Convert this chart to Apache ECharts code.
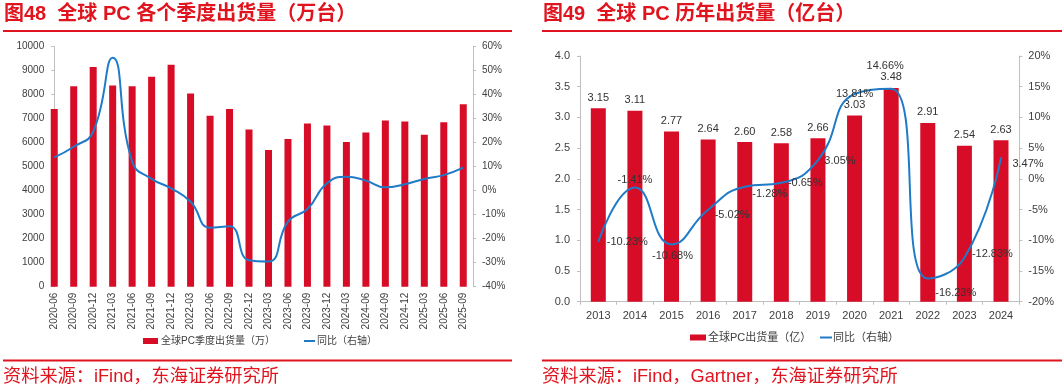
<!DOCTYPE html>
<html><head><meta charset="utf-8">
<script src="https://cdn.jsdelivr.net/npm/echarts@6/dist/echarts.min.js"></script>
<style>html,body{margin:0;padding:0;background:#fff}#c{width:1062px;height:390px}</style>
</head><body><div id="c"></div>
<script>
// ---- data: left chart (quarterly) ----
const quarters = ['2020-06','2020-09','2020-12','2021-03','2021-06','2021-09','2021-12','2022-03','2022-06','2022-09','2022-12','2023-03','2023-06','2023-09','2023-12','2024-03','2024-06','2024-09','2024-12','2025-03','2025-06','2025-09'];
const quarterlyShipments = [7400,8350,9150,8380,8350,8750,9250,8050,7120,7400,6550,5700,6150,6800,6720,6030,6430,6930,6880,6330,6850,7600];
const quarterlyYoY = [13.9,18.3,24.6,55.4,12.1,4.9,1.0,-4.6,-15.4,-14.8,-29.0,-29.5,-12.9,-7.6,3.1,5.8,4.2,1.4,2.7,4.9,6.5,9.6];
// ---- data: right chart (annual) ----
const years = ['2013','2014','2015','2016','2017','2018','2019','2020','2021','2022','2023','2024'];
const annualShipments = [3.15,3.11,2.77,2.64,2.60,2.58,2.66,3.03,3.48,2.91,2.54,2.63];
const annualYoY = [-10.23,-1.41,-10.68,-5.02,-1.28,-0.65,3.05,13.81,14.66,-16.23,-12.83,3.47];
// label placement for annual YoY labels (style only)
const annualYoYLabelOffset = [[29,0],[0,-8],[1,12],[24,5],[25,7],[24,0],[22,1],[0,0],[-6,-23],[28,14],[28,-4],[27,6]];

const FONT = "'Liberation Sans','Noto Sans CJK SC',sans-serif";
const RED = '#E0141E';
const BAR = '#D70C26';
const BLUE = '#1F7BC8';
const AX = '#BFBFBF';
const TXT = '#404040';

const chart = echarts.init(document.getElementById('c'), null, {renderer:'canvas'});
const axisCommon = {
  axisLine:{show:true,lineStyle:{color:AX,width:1}},
  axisTick:{show:true,length:3,lineStyle:{color:AX}},
  splitLine:{show:false}
};
chart.setOption({
  animation:false,
  textStyle:{fontFamily:FONT},
  graphic:[
    {type:'text',x:4,y:14,style:{text:'图48  全球 PC 各个季度出货量（万台）',font:"bold 20px "+FONT,fill:RED,verticalAlign:'middle'}},
    {type:'text',x:543,y:14,style:{text:'图49  全球 PC 历年出货量（亿台）',font:"bold 20px "+FONT,fill:RED,verticalAlign:'middle'}},
    {type:'rect',shape:{x:3,y:30,width:509,height:2},style:{fill:RED}},
    {type:'rect',shape:{x:542,y:30,width:520,height:2},style:{fill:RED}},
    {type:'rect',shape:{x:3,y:359.5,width:509,height:2},style:{fill:RED}},
    {type:'rect',shape:{x:542,y:359.5,width:520,height:2},style:{fill:RED}},
    {type:'text',x:3,y:377,style:{text:'资料来源：iFind，东海证券研究所',font:"18.2px "+FONT,fill:RED,verticalAlign:'middle'}},
    {type:'text',x:542,y:377,style:{text:'资料来源：iFind，Gartner，东海证券研究所',font:"18.2px "+FONT,fill:RED,verticalAlign:'middle'}}
  ],
  grid:[
    {left:44.5,top:46.7,width:428.5,height:240,containLabel:false},
    {left:580,top:56,width:439.3,height:245.7,containLabel:false}
  ],
  legend:[
    {data:['全球PC季度出货量（万）'],left:143,top:336,itemWidth:15,itemHeight:6,itemGap:0,icon:'rect',textStyle:{fontSize:10,color:TXT,padding:[0,0,0,-2]},padding:0},
    {data:['同比（右轴）'],left:304,top:336,itemWidth:11,itemHeight:2,icon:'rect',textStyle:{fontSize:10,color:TXT,padding:[0,0,0,-3]},padding:0},
    {data:['全球PC出货量（亿）'],left:690,top:332,itemWidth:16,itemHeight:6,icon:'rect',textStyle:{fontSize:11,color:TXT,padding:[0,0,0,-3]},padding:0},
    {data:['同比（右轴） '],left:820,top:332,itemWidth:12,itemHeight:2,icon:'rect',textStyle:{fontSize:11,color:TXT,padding:[0,0,0,-4]},padding:0}
  ],
  xAxis:[
    {type:'category',gridIndex:0,data:quarters,boundaryGap:true,
     axisLine:{show:false},axisTick:{show:false},
     axisLabel:{rotate:90,fontSize:10,color:TXT,margin:6,interval:0}},
    {type:'category',gridIndex:1,data:years,boundaryGap:true,
     axisLine:{show:true,lineStyle:{color:AX}},axisTick:{show:true,length:3,lineStyle:{color:AX}},
     axisLabel:{fontSize:11,color:TXT,margin:9,interval:0}}
  ],
  yAxis:[
    Object.assign({type:'value',gridIndex:0,position:'left',offset:-9.7,min:0,max:10000,interval:1000,
      axisLabel:{fontSize:10,color:TXT,margin:10,formatter:v=>String(v)}},axisCommon),
    Object.assign({type:'value',gridIndex:0,position:'right',min:-40,max:60,interval:10,
      axisLabel:{fontSize:10,color:TXT,margin:9,formatter:'{value}%'}},axisCommon),
    Object.assign({type:'value',gridIndex:1,position:'left',min:0,max:4,interval:0.5,
      axisLabel:{fontSize:11,color:TXT,margin:10,formatter:v=>v.toFixed(1)}},axisCommon),
    Object.assign({type:'value',gridIndex:1,position:'right',min:-20,max:20,interval:5,
      axisLabel:{fontSize:11,color:TXT,margin:9,formatter:'{value}%'}},axisCommon)
  ],
  series:[
    {name:'全球PC季度出货量（万）',type:'bar',xAxisIndex:0,yAxisIndex:0,data:quarterlyShipments,
     barWidth:7,itemStyle:{color:BAR}},
    {name:'同比（右轴）',type:'line',xAxisIndex:0,yAxisIndex:1,data:quarterlyYoY,smooth:0.5,
     symbol:'none',itemStyle:{color:BLUE},lineStyle:{color:BLUE,width:2}},
    {name:'全球PC出货量（亿）',type:'bar',xAxisIndex:1,yAxisIndex:2,data:annualShipments,
     barWidth:15,itemStyle:{color:BAR},
     label:{show:true,position:'top',distance:5,fontSize:11,color:'#333',formatter:p=>p.value.toFixed(2)}},
    {name:'同比（右轴） ',type:'line',xAxisIndex:1,yAxisIndex:3,smooth:0.5,
     data:annualYoY.map((v,i)=>({value:v,label:{offset:annualYoYLabelOffset[i]}})),
     symbol:'circle',symbolSize:1,itemStyle:{color:BLUE},lineStyle:{color:BLUE,width:2},
     label:{show:true,position:'inside',fontSize:11,color:'#333',formatter:p=>p.value.toFixed(2)+'%'}}
  ]
});
</script></body></html>
